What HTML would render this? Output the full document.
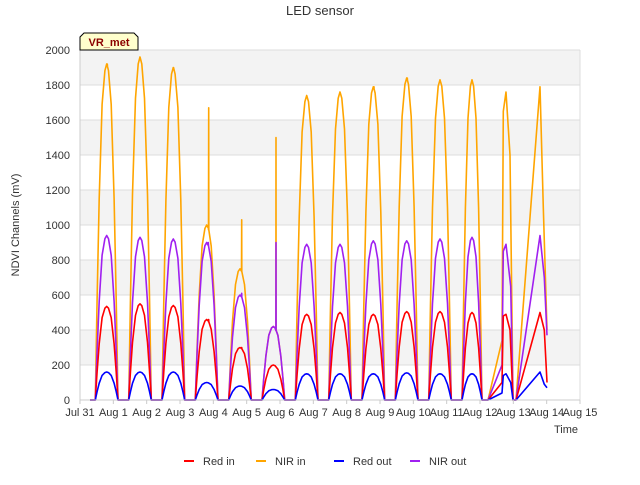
<!DOCTYPE html>
<html><head><meta charset="utf-8"><style>
body{margin:0;background:#fff;font-family:"Liberation Sans",sans-serif}
svg text{font-family:"Liberation Sans",sans-serif}
</style></head><body>
<svg id="c" width="640" height="480" xmlns="http://www.w3.org/2000/svg">
<rect width="640" height="480" fill="#fff"/>
<g id="bands"></g><g id="grid"></g><g id="series"></g><g id="axes"></g>
<text x="320" y="15" text-anchor="middle" font-size="13" fill="#333">LED sensor</text>
<text transform="translate(19,225) rotate(-90)" text-anchor="middle" font-size="11" fill="#333">NDVI Channels (mV)</text>
<text x="566" y="433" text-anchor="middle" font-size="11" fill="#333">Time</text>
<g>
<path d="M80,50 L80,37 L84,33 L134,33 L138,37 L138,50 Z" fill="#ffffcc" stroke="#000" stroke-width="1"/>
<text x="109" y="46" text-anchor="middle" font-size="11" font-weight="bold" fill="#8b0000">VR_met</text>
</g>
<g id="legend"></g>
</svg>
<script>
const yTicks=[0,200,400,600,800,1000,1200,1400,1600,1800,2000];
const xTickLabels=["Jul 31","Aug 1","Aug 2","Aug 3","Aug 4","Aug 5","Aug 6","Aug 7","Aug 8","Aug 9","Aug 10","Aug 11","Aug 12","Aug 13","Aug 14","Aug 15"];
const seriesNames=["Red in","NIR in","Red out","NIR out"];
const seriesColors=["#ff0000","#ffa500","#0000ff","#a020f0"];
const peakRedIn=[535,550,540,460,300,200,490,500,490,505,505,500];
const peakNirIn=[1920,1960,1900,1000,750,420,1740,1760,1790,1840,1830,1830];
const peakRedOut=[160,160,160,100,80,60,150,150,150,155,150,150];
const peakNirOut=[940,930,920,900,600,420,890,890,910,910,920,930];
const spikeNirIn=[[3.86,1670],[4.85,1030],[5.88,1500],[0.82,1920],[2.8,1900],[8.82,1790],[9.82,1840]];
const spikeNirOut=[[3.85,900],[4.85,610],[5.88,900]];
const spikeRedIn=[[3.86,460],[4.85,300]];
const tailRedIn=[[12.06,0],[12.24,0],[12.66,100],[12.7,480],[12.78,490],[12.9,400],[12.99,0],[13.08,0],[13.8,500],[13.93,400],[14.01,100]];
const tailNirIn=[[12.06,0],[12.24,0],[12.66,340],[12.7,1650],[12.78,1760],[12.9,1400],[12.99,0],[13.08,0],[13.8,1790],[13.9,1100],[14.01,400]];
const tailRedOut=[[12.06,0],[12.24,0],[12.66,40],[12.7,140],[12.78,150],[12.92,100],[12.99,0],[13.08,0],[13.8,160],[13.93,90],[14.01,70]];
const tailNirOut=[[12.06,0],[12.24,0],[12.66,200],[12.7,850],[12.78,890],[12.92,650],[12.99,0],[13.08,0],[13.8,940],[13.93,700],[14.01,370]];
const L=80,R=580,T=50,B=400;
const X=t=>L+(t/15)*(R-L);
const Y=v=>B-(v/2000)*(B-T);
const NS="http://www.w3.org/2000/svg";
function mk(tag,attrs,parent){const e=document.createElementNS(NS,tag);for(const k in attrs)e.setAttribute(k,attrs[k]);parent.appendChild(e);return e;}
const bands=document.getElementById('bands'),grid=document.getElementById('grid'),axes=document.getElementById('axes');
for(let i=0;i<yTicks.length-1;i++){
 const r=mk('rect',{x:L,y:Y(yTicks[i+1]),width:R-L,height:Y(yTicks[i])-Y(yTicks[i+1]),fill:i%2===1?'#f3f3f3':'#ffffff'},bands);
 
 
}
yTicks.forEach(v=>{
 const l=mk('line',{x1:L,x2:R,y1:Y(v),y2:Y(v),stroke:'#dcdcdc','stroke-width':1},grid);
 
 
 const t=mk('text',{x:L-10,y:Y(v)+4,'text-anchor':'end','font-size':11,fill:'#333'},axes);
 t.textContent=v;
 
 
});
mk('line',{x1:R,x2:R,y1:T,y2:B,stroke:'#dcdcdc'},grid);
mk('line',{x1:L,x2:L,y1:T,y2:B,stroke:'#ccc'},axes);
mk('line',{x1:L,x2:R,y1:B,y2:B,stroke:'#ccc'},axes);
xTickLabels.forEach((s,i)=>{
 const t=mk('text',{x:X(i),y:B+16,'text-anchor':'middle','font-size':11,fill:'#333'},axes);
 t.textContent=s;
 
 
 mk('line',{x1:X(i),x2:X(i),y1:B,y2:B+4,stroke:'#ccc'},axes);
});
const shapeF=[0,0.08,0.17,0.3,0.42,0.5,0.58,0.7,0.83,0.92,1];
const shapeV=[0,0.3,0.6,0.88,0.98,1,0.98,0.88,0.6,0.3,0];
function build(peaks,spikes,tail){
 const pts=[[0.3,0]];
 peaks.forEach((p,d)=>{
  const s=d+0.46,e=(d===11)?12.06:d+1.14;
  shapeF.forEach((f,k)=>pts.push([s+f*(e-s),p*shapeV[k]]));
 });
 spikes.forEach(sp=>{
  let idx=pts.findIndex(q=>q[0]>sp[0]);
  if(idx>0){
   const a=pts[idx-1],b=pts[idx];
   const base=a[1]+(b[1]-a[1])*(sp[0]-a[0])/(b[0]-a[0]);
   pts.splice(idx,0,[sp[0]-0.004,base],[sp[0],sp[1]],[sp[0]+0.004,base]);
  }
 });
 tail.forEach(q=>pts.push(q));
 return pts;
}
const allSeries=[build(peakRedIn,spikeRedIn,tailRedIn),build(peakNirIn,spikeNirIn,tailNirIn),build(peakRedOut,[],tailRedOut),build(peakNirOut,spikeNirOut,tailNirOut)];
const sg=document.getElementById('series');
[1,3,0,2].forEach(i=>{
 const p=mk('path',{d:allSeries[i].map((q,k)=>(k?'L':'M')+X(q[0]).toFixed(1)+','+Y(q[1]).toFixed(1)).join(''),fill:'none',stroke:seriesColors[i],'stroke-width':1.6,'stroke-linejoin':'round'},sg);
 
 
});
const lg=document.getElementById('legend');
const lx=[184,256,334,410];
seriesNames.forEach((n,i)=>{
 const g=mk('g',{},lg);
 
 
 mk('line',{x1:lx[i],x2:lx[i]+10,y1:461,y2:461,stroke:seriesColors[i],'stroke-width':2},g);
 const t=mk('text',{x:lx[i]+19,y:465,'font-size':11,fill:'#333'},g);
 t.textContent=n;
});
</script>
</body></html>
